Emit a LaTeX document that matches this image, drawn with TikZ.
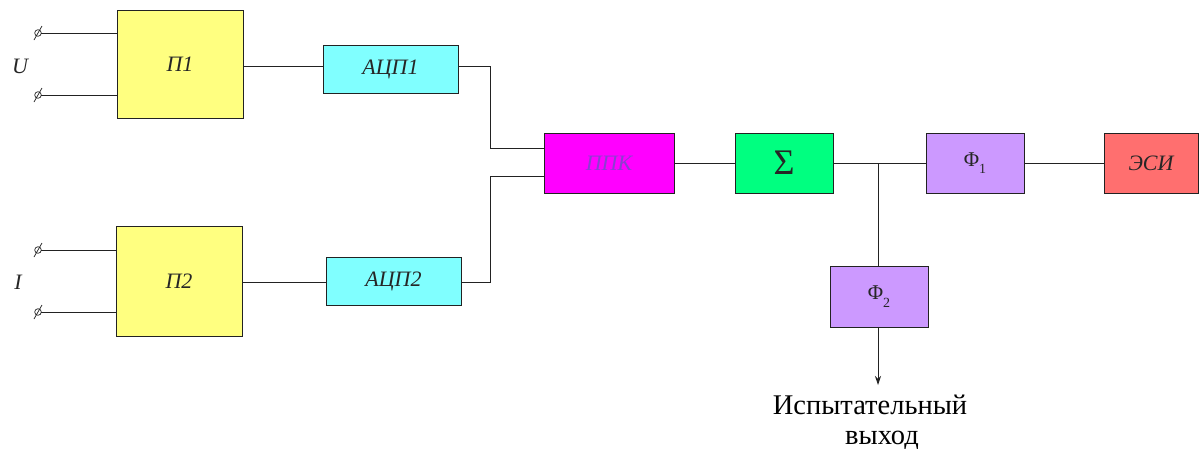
\documentclass[tikz,border=0pt]{standalone}
\usepackage{fontspec}
\setmainfont{Liberation Serif}
\usetikzlibrary{arrows.meta,calc}
\definecolor{cyel}{HTML}{FFFF80}
\definecolor{ccyan}{HTML}{80FFFF}
\definecolor{cmag}{HTML}{FF00FF}
\definecolor{cgrn}{HTML}{00FF80}
\definecolor{clav}{HTML}{CC99FF}
\definecolor{csal}{HTML}{FF6F6F}
\definecolor{cppk}{HTML}{8A3FD0}
\definecolor{cline}{HTML}{222222}
\newcommand{\subone}[1]{\raisebox{-0.35em}{\fontsize{14}{14}\selectfont #1}}
\begin{document}
\begin{tikzpicture}[x=1pt,y=-1pt,
  blk/.style={draw=cline,line width=0.9pt,minimum width=#1,inner sep=0pt},
  wire/.style={draw=cline,line width=0.9pt},
  lbl/.style={font=\fontsize{22}{24}\selectfont\itshape,text=black!85},
  phi/.style={font=\fontsize{21}{24}\selectfont,text=black!85},
  outtxt/.style={font=\fontsize{28.5}{30}\selectfont,inner sep=0pt,anchor=base}]
\useasboundingbox[fill=white] (0,0) rectangle (1202,448);
% blocks
\node[blk=126pt,minimum height=108pt,fill=cyel,lbl] (P1) at (180,64) {П1};
\node[blk=126pt,minimum height=110pt,fill=cyel,lbl] (P2) at (179,281) {П2};
\node[blk=135pt,minimum height=48pt,fill=ccyan,lbl] (A1) at (390.5,69) {АЦП1};
\node[blk=135pt,minimum height=48pt,fill=ccyan,lbl] (A2) at (393.5,281) {АЦП2};
\node[blk=130pt,minimum height=60pt,fill=cmag,lbl,text=cppk] (PPK) at (609,163) {ППК};
\node[blk=98pt,minimum height=60pt,fill=cgrn,font=\fontsize{36}{38}\selectfont,text=black!85] (S) at (784,163) {Σ};
\node[blk=98pt,minimum height=60pt,fill=clav,phi] (F1) at (975,163) {Φ\subone{1}};
\node[blk=94pt,minimum height=60pt,fill=csal,lbl] (E) at (1151,163) {ЭСИ};
\node[blk=98pt,minimum height=61pt,fill=clav,phi] (F2) at (879,296.5) {Φ\subone{2}};
% labels
\node[lbl] (U) at (20,66) {U};
\node[lbl] (I) at (18,282) {I};
\node[outtxt] (out1) at (870,414) {Испытательный};
\node[outtxt] (out2) at (882,444) {выход};
% terminals
\coordinate (t1) at (38,33);
\coordinate (t2) at (38,95);
\coordinate (t3) at (38,250);
\coordinate (t4) at (38,312);
\foreach \t in {t1,t2,t3,t4}{
  \draw[wire,line width=0.7pt] (\t) circle (3.3pt);
  \draw[wire,line width=0.7pt] ($(\t)+(-4,7)$) -- ($(\t)+(4,-7)$);
  \draw[wire] ($(\t)+(3.3,0)$) -- (\t -| P1.west);
}
% wires
\draw[wire] (P1.east |- 0,66) -- (A1.west |- 0,66);
\draw[wire] (P2.east |- 0,282) -- (A2.west |- 0,282);
\coordinate (j1) at (490,66);
\coordinate (j2) at (490,282);
\draw[wire] (A1.east |- j1) -- (j1) |- (PPK.west |- 0,148);
\draw[wire] (A2.east |- j2) -- (j2) |- (PPK.west |- 0,176);
\draw[wire] (PPK.east) -- (S.west);
\coordinate (jn) at (878,163);
\draw[wire] (S.east) -- (F1.west);
\draw[wire] (F1.east) -- (E.west);
\draw[wire] (jn) -- (F2.north -| jn);
\coordinate (ae) at (878,385);
\draw[wire,-{Stealth[length=9pt,width=6pt]}] (F2.south -| jn) -- (ae);
\end{tikzpicture}
\end{document}
